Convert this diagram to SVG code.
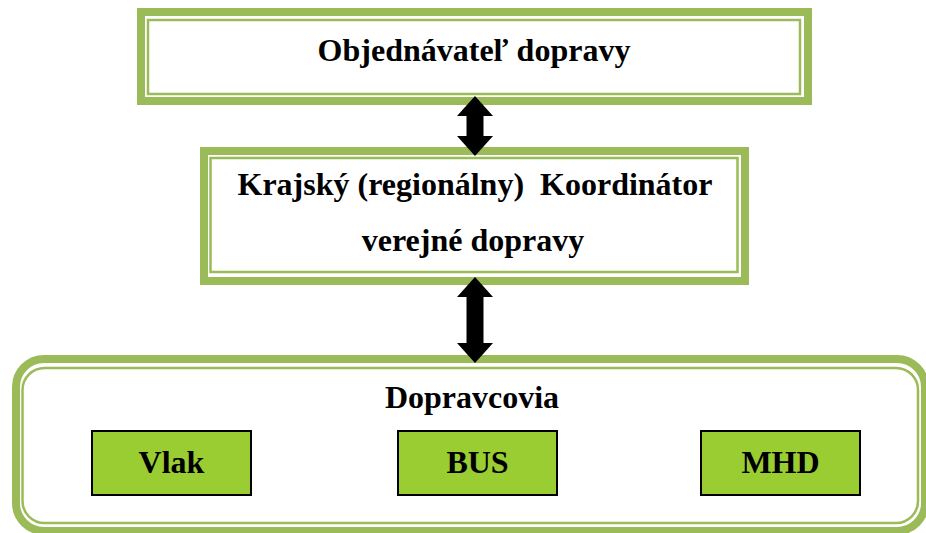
<svg xmlns="http://www.w3.org/2000/svg" width="926" height="533" viewBox="0 0 926 533">
<style>
.thick{fill:none;stroke:#9BBB59;stroke-width:8}
.thin{fill:none;stroke:#9BBB59;stroke-width:2.5}
.t{font-family:"Liberation Serif","Times New Roman",serif;font-weight:bold;font-size:32px;fill:#000;text-anchor:middle;white-space:pre}
.mode{fill:#9ACD32;stroke:#000;stroke-width:2}
.arr{fill:#000}
</style>
<rect width="926" height="533" fill="#fff"/>
<g id="objednavatel">
<rect class="thick" x="141" y="12" width="667" height="89"/>
<rect class="thin" x="148" y="20" width="652" height="74"/>
<text class="t" x="474" y="61">Objednávateľ dopravy</text>
</g>
<g id="koordinator">
<rect class="thick" x="204" y="151" width="541" height="130"/>
<rect class="thin" x="210.5" y="158" width="527" height="114"/>
<text class="t" x="475" y="195" xml:space="preserve">Krajský (regionálny)  Koordinátor</text>
<text class="t" x="473" y="251">verejné dopravy</text>
</g>
<g id="dopravcovia">
<rect class="thick" x="16" y="359" width="909" height="172" rx="28"/>
<rect class="thin" x="22.5" y="368" width="895.5" height="155" rx="22"/>
<text class="t" x="472" y="408">Dopravcovia</text>
</g>
<g id="vlak">
<rect class="mode" x="92" y="431" width="159" height="64"/>
<text class="t" x="171.5" y="473">Vlak</text>
</g>
<g id="bus">
<rect class="mode" x="398" y="431" width="159" height="64"/>
<text class="t" x="477.5" y="473">BUS</text>
</g>
<g id="mhd">
<rect class="mode" x="701" y="431" width="159" height="64"/>
<text class="t" x="780.5" y="473">MHD</text>
</g>
<g id="connectors">
<polygon class="arr" points="475,96 493,116 483.5,116 483.5,136 493,136 475,156 457,136 466.5,136 466.5,116 457,116"/>
<polygon class="arr" points="475,277 493,297 483.5,297 483.5,343 493,343 475,363 457,343 466.5,343 466.5,297 457,297"/>
</g>
</svg>
